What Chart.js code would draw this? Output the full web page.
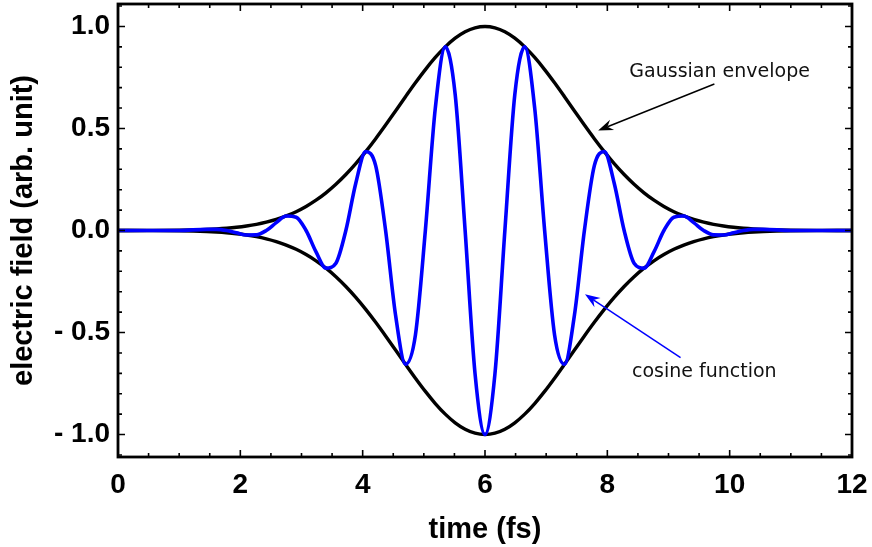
<!DOCTYPE html>
<html>
<head>
<meta charset="utf-8">
<script src="https://cdn.jsdelivr.net/npm/chart.js@4.4.1/dist/chart.umd.min.js"></script>
<style>
  html, body { margin: 0; padding: 0; background: #fff; }
  canvas { display: block; }
</style>
</head>
<body>
<canvas id="pulse" width="872" height="547"></canvas>
<script>
// Sample times (fs)
const time = [0, 0.5, 1,
  1.45, 1.6125, 1.775, 1.9375, 2.1, 2.2625, 2.425, 2.5875, 2.75, 2.9125,
  3.075, 3.2375, 3.4, 3.5625, 3.725, 3.8875, 4.05, 4.2125, 4.375, 4.5375,
  4.7, 4.8625, 5.025, 5.1875, 5.35, 5.5125, 5.675, 5.8375, 6, 6.1625,
  6.325, 6.4875, 6.65, 6.8125, 6.975, 7.1375, 7.3, 7.4625, 7.625, 7.7875,
  7.95, 8.1125, 8.275, 8.4375, 8.6, 8.7625, 8.925, 9.0875, 9.25, 9.4125,
  9.575, 9.7375, 9.9, 10.0625, 10.225, 10.3875, 10.55,
  11, 11.5, 12];

// Gaussian envelope, upper branch
const envelopeUpper = [0.0001, 0.0005, 0.0019,
  0.0057, 0.0081, 0.0115, 0.0161, 0.0223, 0.0304, 0.0410, 0.0544, 0.0713, 0.0923,
  0.1178, 0.1484, 0.1845, 0.2264, 0.2742, 0.3277, 0.3865, 0.4499, 0.5168, 0.5858,
  0.6554, 0.7237, 0.7885, 0.8479, 0.8998, 0.9423, 0.9739, 0.9934, 1.0, 0.9934,
  0.9739, 0.9423, 0.8998, 0.8479, 0.7885, 0.7237, 0.6554, 0.5858, 0.5168, 0.4499,
  0.3865, 0.3277, 0.2742, 0.2264, 0.1845, 0.1484, 0.1178, 0.0923, 0.0713, 0.0544,
  0.0410, 0.0304, 0.0223, 0.0161, 0.0115, 0.0081, 0.0057,
  0.0019, 0.0005, 0.0001];

// Gaussian envelope, lower branch
const envelopeLower = [-0.0001, -0.0005, -0.0019,
  -0.0057, -0.0081, -0.0115, -0.0161, -0.0223, -0.0304, -0.0410, -0.0544, -0.0713, -0.0923,
  -0.1178, -0.1484, -0.1845, -0.2264, -0.2742, -0.3277, -0.3865, -0.4499, -0.5168, -0.5858,
  -0.6554, -0.7237, -0.7885, -0.8479, -0.8998, -0.9423, -0.9739, -0.9934, -1.0, -0.9934,
  -0.9739, -0.9423, -0.8998, -0.8479, -0.7885, -0.7237, -0.6554, -0.5858, -0.5168, -0.4499,
  -0.3865, -0.3277, -0.2742, -0.2264, -0.1845, -0.1484, -0.1178, -0.0923, -0.0713, -0.0544,
  -0.0410, -0.0304, -0.0223, -0.0161, -0.0115, -0.0081, -0.0057,
  -0.0019, -0.0005, -0.0001];

// Electric field under the envelope
const field = [0, 0, 0,
  0.0057, 0.0057, 0, -0.0114, -0.0223, -0.0215, 0, 0.0385, 0.0713, 0.0652,
  0, -0.1049, -0.1845, -0.1601, 0, 0.2317, 0.3865, 0.3181, 0, -0.4142,
  -0.6554, -0.5117, 0, 0.5995, 0.8998, 0.6663, 0, -0.7024, -1.0, -0.7024,
  0, 0.6663, 0.8998, 0.5995, 0, -0.5117, -0.6554, -0.4142, 0, 0.3181,
  0.3865, 0.2317, 0, -0.1601, -0.1845, -0.1049, 0, 0.0652, 0.0713, 0.0385,
  0, -0.0215, -0.0223, -0.0114, 0, 0.0057, 0.0057,
  0, 0, 0];

const xTicks = [0, 2, 4, 6, 8, 10, 12];
const xTickLabels = ['0', '2', '4', '6', '8', '10', '12'];
const yTicks = [-1, -0.5, 0, 0.5, 1];
const yTickLabels = ['- 1.0', '- 0.5', '0.0', '0.5', '1.0'];

// Callouts, placed in data units (time, field)
const callouts = [
  { text: 'Gaussian envelope', lineColor: '#000000', textAt: [9.836, 0.754], from: [9.75, 0.718], to: [7.85, 0.49] },
  { text: 'cosine function', lineColor: '#0000ff', textAt: [9.585, -0.718], from: [9.197, -0.623], to: [7.635, -0.313] }
];

const toPoints = (ys) => time.map((t, i) => ({ x: t, y: ys[i] }));

const boldFont = (size) => ({ family: '"Liberation Sans", Arial, sans-serif', size: size, weight: 'bold' });

function drawArrow(ctx, x1, y1, x2, y2, color) {
  const dx = x2 - x1, dy = y2 - y1;
  const len = Math.hypot(dx, dy);
  const ux = dx / len, uy = dy / len;
  const nx = -uy, ny = ux;
  const headLen = 15, headHalf = 5.5, notch = 10;
  ctx.strokeStyle = color;
  ctx.fillStyle = color;
  ctx.lineWidth = 1.5;
  ctx.beginPath();
  ctx.moveTo(x1, y1);
  ctx.lineTo(x2 - ux * notch, y2 - uy * notch);
  ctx.stroke();
  ctx.beginPath();
  ctx.moveTo(x2, y2);
  ctx.lineTo(x2 - ux * headLen + nx * headHalf, y2 - uy * headLen + ny * headHalf);
  ctx.lineTo(x2 - ux * notch, y2 - uy * notch);
  ctx.lineTo(x2 - ux * headLen - nx * headHalf, y2 - uy * headLen - ny * headHalf);
  ctx.closePath();
  ctx.fill();
}

// Boxed frame with inward ticks on all four sides, plus the callouts
const framePlugin = {
  id: 'frameAndCallouts',
  afterDatasetsDraw(chart) {
    const { ctx, chartArea: a, scales: { x, y } } = chart;
    ctx.save();
    ctx.strokeStyle = '#000';
    ctx.lineCap = 'butt';
    ctx.lineWidth = 1.6;
    ctx.beginPath();
    for (let i = 0; i <= 24; i++) {
      const v = i * 0.5;
      const px = x.getPixelForValue(v);
      const len = (i % 4 === 0) ? 7 : 4;
      ctx.moveTo(px, a.bottom); ctx.lineTo(px, a.bottom - len);
      ctx.moveTo(px, a.top); ctx.lineTo(px, a.top + len);
    }
    for (let i = -11; i <= 11; i++) {
      const py = y.getPixelForValue(i / 10);
      const len = (i % 5 === 0) ? 7 : 4;
      ctx.moveTo(a.left, py); ctx.lineTo(a.left + len, py);
      ctx.moveTo(a.right, py); ctx.lineTo(a.right - len, py);
    }
    ctx.stroke();
    ctx.lineWidth = 2.8;
    ctx.strokeRect(a.left, a.top, a.right - a.left, a.bottom - a.top);

    ctx.font = '19px "DejaVu Sans", sans-serif';
    ctx.textAlign = 'center';
    ctx.textBaseline = 'alphabetic';
    for (const c of callouts) {
      ctx.fillStyle = '#111';
      ctx.fillText(c.text, x.getPixelForValue(c.textAt[0]), y.getPixelForValue(c.textAt[1]));
      drawArrow(ctx,
        x.getPixelForValue(c.from[0]), y.getPixelForValue(c.from[1]),
        x.getPixelForValue(c.to[0]), y.getPixelForValue(c.to[1]), c.lineColor);
    }
    ctx.restore();
  }
};

new Chart(document.getElementById('pulse'), {
  type: 'scatter',
  data: {
    datasets: [
      { label: 'cosine function', data: toPoints(field), borderColor: '#0000ff', borderWidth: 3.6 },
      { label: 'Gaussian envelope', data: toPoints(envelopeUpper), borderColor: '#000', borderWidth: 3.4 },
      { label: 'Gaussian envelope (lower)', data: toPoints(envelopeLower), borderColor: '#000', borderWidth: 3.4 }
    ].map(d => Object.assign(d, { showLine: true, pointRadius: 0, cubicInterpolationMode: 'monotone', fill: false }))
  },
  options: {
    responsive: false,
    devicePixelRatio: 1,
    animation: false,
    layout: { padding: { top: 4, right: 20, bottom: 0, left: 0 } },
    plugins: { legend: { display: false }, tooltip: { enabled: false } },
    scales: {
      x: {
        type: 'linear', min: 0, max: 12,
        grid: { display: false, drawTicks: false },
        border: { display: false },
        afterBuildTicks: (s) => { s.ticks = xTicks.map(v => ({ value: v })); },
        afterFit: (s) => { s.height = 90; s.paddingLeft = 0; s.paddingRight = 0; },
        ticks: {
          autoSkip: false, maxRotation: 0, padding: 11, color: '#000', font: boldFont(28),
          callback: (v) => xTickLabels[xTicks.indexOf(v)]
        },
        title: { display: true, text: 'time (fs)', color: '#000', font: boldFont(29), padding: { top: 0, bottom: 0 } }
      },
      y: {
        type: 'linear', min: -1.11, max: 1.11,
        grid: { display: false, drawTicks: false },
        border: { display: false },
        afterBuildTicks: (s) => { s.ticks = yTicks.map(v => ({ value: v })); },
        afterFit: (s) => { s.width = 118; s.paddingTop = 0; s.paddingBottom = 0; },
        ticks: {
          autoSkip: false, padding: 8, color: '#000', font: boldFont(28),
          callback: (v) => yTickLabels[yTicks.indexOf(v)]
        },
        title: { display: true, text: 'electric field (arb. unit)', color: '#000', font: boldFont(29), padding: { top: 7, bottom: 0 } }
      }
    }
  },
  plugins: [framePlugin]
});
</script>
</body>
</html>
